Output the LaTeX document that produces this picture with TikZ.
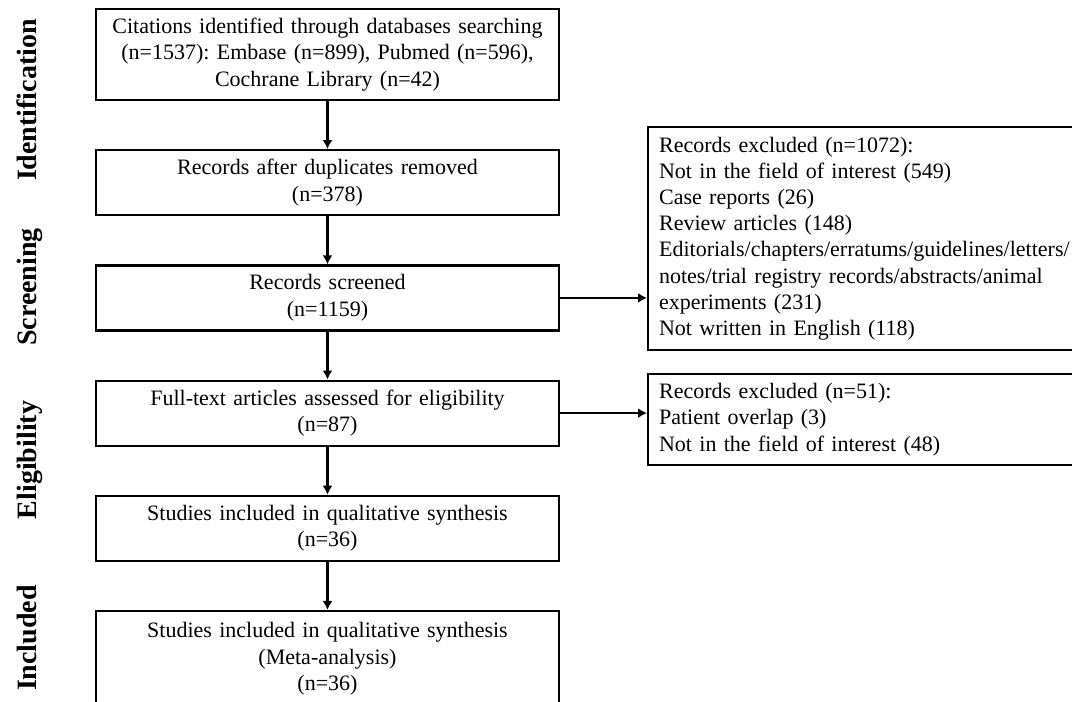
\documentclass[tikz,border=0pt]{standalone}
\usepackage{fontspec}
\setmainfont{Liberation Serif}
\usetikzlibrary{positioning,arrows.meta}
\frenchspacing

\begin{document}
\begin{tikzpicture}[x=0.5pt,y=-0.5pt,>={Latex[length=4.5pt,width=5pt]},
  node distance=24pt,
  caja/.style={draw,line width=1.1pt,minimum width=231.5pt,minimum height=32.5pt,
    text width=222pt,align=center,inner sep=0pt,font=\fontsize{11}{13.2}\selectfont},
  cajaalta/.style={caja,minimum height=45.5pt},
  excluidos/.style={draw,line width=1.1pt,text width=207.5pt,align=left,
    inner xsep=5.5pt,inner ysep=0pt,anchor=north west,font=\fontsize{11}{13.1}\selectfont},
  fase/.style={font=\fontsize{14}{16}\selectfont\bfseries,rotate=90,anchor=base},
  flecha/.style={->,line width=1.1pt}]
  % Ventana de la figura
  \clip (0,0) rectangle (1072,702);
  \fill[white] (0,0) rectangle (1072,702);

  % Etiquetas de las fases
  \node[fase] (fid) at (36,100) {Identification};
  \node[fase] (fcr) at (36,287) {Screening};
  \node[fase] (fel) at (36,460) {Eligibility};
  \node[fase] (fin) at (36,638) {Included};

  % Columna principal
  \node[cajaalta] (ident) at (327.5,54.5) {Citations identified through databases searching\\(n=1537): Embase (n=899), Pubmed (n=596),\\Cochrane Library (n=42)};
  \node[caja,below=of ident] (dupl) {Records after duplicates removed\\(n=378)};
  \node[caja,below=of dupl] (cribado) {Records screened\\(n=1159)};
  \node[caja,below=of cribado] (texto) {Full-text articles assessed for eligibility\\(n=87)};
  \node[caja,below=of texto] (cual) {Studies included in qualitative synthesis\\(n=36)};
  \node[cajaalta,minimum height=48pt,below=of cual] (meta) {Studies included in qualitative synthesis\\(Meta-analysis)\\(n=36)};

  % Registros excluidos
  \node[excluidos,minimum height=111.5pt] (excl1) at (647,126) {Records excluded (n=1072):\\Not in the field of interest (549)\\Case reports (26)\\Review articles (148)\\Editorials/chapters/erratums/guidelines/letters/\\notes/trial registry records/abstracts/animal\\experiments (231)\\Not written in English (118)};
  \node[excluidos,minimum height=45.5pt] (excl2) at (647,373) {Records excluded (n=51):\\Patient overlap (3)\\Not in the field of interest (48)};

  % Flechas
  \foreach \a/\b in {ident/dupl,dupl/cribado,cribado/texto,texto/cual,cual/meta}
    \draw[flecha] (\a) -- (\b);
  \draw[flecha] (cribado.east) -- (cribado.east -| excl1.west);
  \draw[flecha] (texto.east) -- (texto.east -| excl2.west);
\end{tikzpicture}
\end{document}
